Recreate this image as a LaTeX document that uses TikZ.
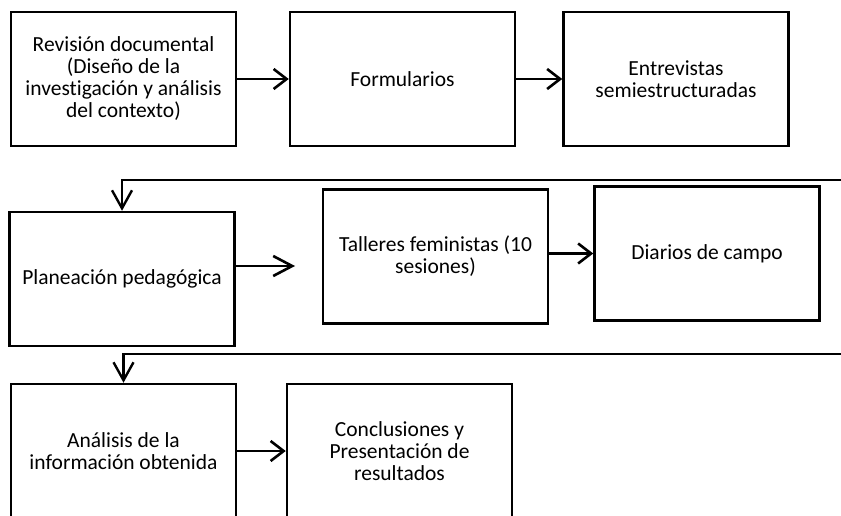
\documentclass[tikz,border=0pt]{standalone}
\usepackage{fontspec}
\setmainfont{Carlito}[Ligatures=NoCommon]
\usetikzlibrary{arrows.meta}
\tikzset{
  box/.style={draw, line width=2.5pt, fill=white, minimum width=225pt, minimum height=134pt,
    align=center, inner sep=2pt, font=\fontsize{21.5pt}{22pt}\selectfont},
  conn/.style={line width=2.6pt, -{Straight Barb[length=13pt,width=20pt,line width=2.6pt]}},
  connlong/.style={line width=2.6pt, -{Straight Barb[length=19pt,width=20pt,line width=2.6pt]}},
  back/.style={line width=2.2pt, -{Straight Barb[length=18pt,width=20pt,line width=2.4pt]}},
}
\begin{document}
\begin{tikzpicture}[x=1pt,y=-1pt]
\path[use as bounding box] (0,0) rectangle (841,516);
\clip (0,0) rectangle (841,516);
% row 1
\node[box] (rev) at (123.5,79) {Revisión documental\\(Diseño de la\\investigación y análisis\\del contexto)};
\node[box] (form) at (402.5,79) {Formularios};
\node[box] (ent) at (676,79) {Entrevistas\\semiestructuradas};
% row 2
\node[box] (plan) at (122,279) {Planeación pedagógica};
\node[box] (tal) at (435.5,256.5) {Talleres feministas (10\\sesiones)};
\node[box] (dia) at (707,253.5) {Diarios de campo};
% row 3
\node[box] (ana) at (123.5,451) {Análisis de la\\información obtenida};
\node[box] (con) at (399.5,451) {Conclusiones y\\Presentación de\\resultados};
% free ends
\coordinate (in1) at (845,180);
\coordinate (in2) at (845,354);
\coordinate (p2t) at (295,266);
% connectors
\draw[conn] (rev.east) -- (form.west);
\draw[conn] (form.east) -- (ent.west);
\draw[connlong] (plan.east |- p2t) -- (p2t);
\draw[conn] (tal.east |- dia.west) -- (dia.west);
\draw[conn] (ana.east) -- (con.west);
\draw[back] (in1) -| (plan.north);
\draw[back] (in2) -| (ana.north);
\end{tikzpicture}
\end{document}
